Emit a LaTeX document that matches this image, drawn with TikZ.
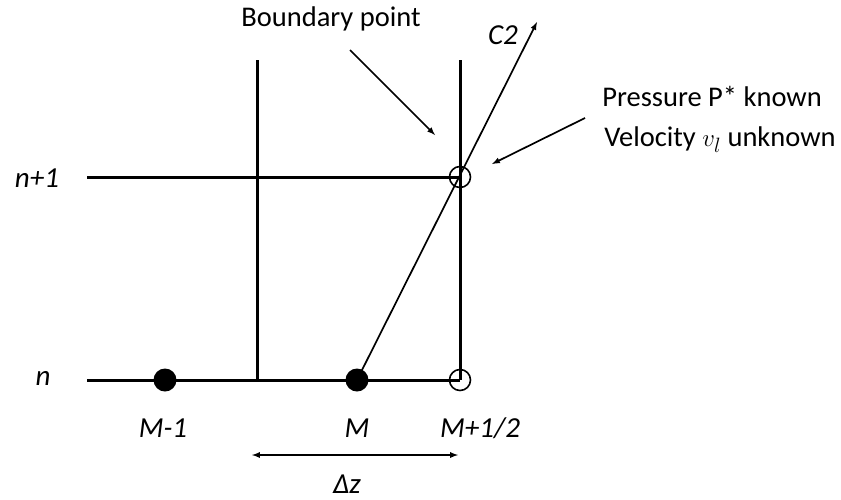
\documentclass[tikz,border=0pt]{standalone}
\usepackage{fontspec}
\setmainfont{Carlito}
\usetikzlibrary{positioning}
\begin{document}
\begin{tikzpicture}[
    x=1pt, y=-1pt,
    grid/.style={line width=3pt},
    fdot/.style={circle, fill=black, inner sep=0pt, minimum size=23pt},
    odot/.style={circle, draw=black, line width=1.6pt, fill=none, inner sep=0pt, minimum size=21pt},
    lbl/.style={font=\fontsize{29}{34}\selectfont\itshape, inner sep=0pt},
    txt/.style={font=\fontsize{28.5}{34}\selectfont, inner sep=0pt},
    arrow/.style={-latex, line width=1.7pt}
]
    \useasboundingbox (0,0) rectangle (841,499);

    % Grid lines
    \coordinate (nl) at (87,380);
    \coordinate (nr) at (460,380);
    \coordinate (ml) at (87,177);
    \coordinate (mr) at (460,177);
    \coordinate (vlt) at (257,60);
    \coordinate (vlb) at (257,380);
    \coordinate (vrt) at (460,60);
    \draw[grid] (nl) -- (nr);
    \draw[grid] (ml) -- (mr);
    \draw[grid] (vlt) -- (vlb);
    \draw[grid] (vrt) -- (nr);

    % Time levels
    \node[lbl] (tn1) at (37,178) {n+1};
    \node[lbl] (tn)  at (43,378) {n};

    % Grid points
    \node[fdot] (pm1) at (165,380) {};
    \node[fdot] (pm)  at (357,380) {};
    \node[odot] (pb)  at (460,380) {};
    \node[odot] (pbn) at (460,177) {};
    \node[lbl] (lm1) at (163,428) {M-1};
    \node[lbl] (lm)  at (357,428) {M};
    \node[lbl] (lb)  at (480,428) {M+1/2};

    % Characteristic C2
    \coordinate (c2tip) at (537,22);
    \draw[arrow] (pm.center) -- (c2tip);
    \node[lbl] (c2) at (503,35) {C2};

    % Boundary point
    \node[txt] (bp) at (331,19) {Boundary point};
    \coordinate (bpa) at (350,50);
    \coordinate (bpb) at (435,135);
    \draw[arrow] (bpa) -- (bpb);

    % Known / unknown
    \node[txt] (pk) at (712,96) {Pressure P* known};
    \node[txt] (vu) at (720,140) {Velocity $v_l$ unknown};
    \coordinate (pka) at (585,118);
    \coordinate (pkb) at (492,164);
    \draw[arrow] (pka) -- (pkb);

    % Spacing
    \coordinate (dza) at (252,455);
    \coordinate (dzb) at (458,455);
    \draw[latex-latex, line width=1.7pt] (dza) -- (dzb);
    \node[lbl] (dz) at (347,484) {Δz};
\end{tikzpicture}
\end{document}
